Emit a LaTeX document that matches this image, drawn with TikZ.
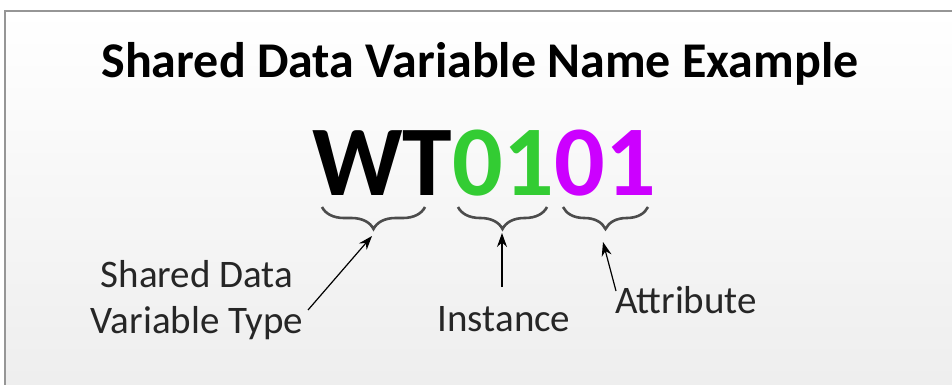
\documentclass[tikz,border=0pt]{standalone}
\usepackage{fontspec}
\setmainfont{Carlito}
\usetikzlibrary{arrows.meta,decorations.pathreplacing}
\definecolor{idgreen}{RGB}{51,204,51}
\definecolor{idpurple}{RGB}{204,0,255}
\definecolor{framegray}{RGB}{150,150,150}
\tikzset{
  codepart/.style={inner sep=0pt, anchor=base west, font=\fontsize{100}{100}\selectfont\bfseries},
  lbl/.style={inner sep=0pt, anchor=base, font=\fontsize{39}{46}\selectfont, text=black!85},
  curly/.style={decorate, decoration={brace, mirror, amplitude=22pt}, line width=2.6pt, black!70},
  pointer/.style={-{Stealth[length=14pt,width=10pt]}, line width=1.2pt},
}
\begin{document}
\begin{tikzpicture}[x=1pt,y=-1pt]
        \useasboundingbox (0,0) rectangle (952,385);

        % Background panel
        \shade[top color=white, bottom color=black!7] (5,11) rectangle (965,400);
        \draw[framegray, line width=2pt] (5,400) -- (5,11) -- (965,11);

        % Title
        \node[inner sep=0pt, anchor=base, font=\fontsize{50}{50}\selectfont\bfseries] (title) at (480,78) {Shared Data Variable Name Example};

        % Define the name parts
        \node[codepart] (wt) at (312,195) {WT};
        \node[codepart, text=idgreen] (inst) at (wt.base east) {01};
        \node[codepart, text=idpurple] (attr) at (inst.base east) {01};

        % Brace ends and tips
        \coordinate (wtL) at (322,207);
        \coordinate (wtR) at (425,207);
        \coordinate (instL) at (458,207);
        \coordinate (instR) at (547,207);
        \coordinate (attrL) at (563,207);
        \coordinate (attrR) at (648,207);
        \coordinate (wtTip) at (372,236);
        \coordinate (instTip) at (502,233);
        \coordinate (attrTip) at (603,242);

        % Labels
        \node[lbl, align=center] (typelbl) at (197,333) {Shared Data\\Variable Type};
        \node[lbl] (instlbl) at (504,331) {Instance};
        \node[lbl] (attrlbl) at (686,313) {Attribute};
        \coordinate (typeFoot) at (308,310);
        \coordinate (instFoot) at (502,287);
        \coordinate (attrFoot) at (616,291);

        % Draw braces
        \draw[curly] (wtL) -- (wtR);
        \draw[curly] (instL) -- (instR);
        \draw[curly] (attrL) -- (attrR);

        % Draw arrows
        \draw[pointer] (typeFoot) -- (wtTip);
        \draw[pointer] (instFoot) -- (instTip);
        \draw[pointer] (attrFoot) -- (attrTip);

\end{tikzpicture}
\end{document}
